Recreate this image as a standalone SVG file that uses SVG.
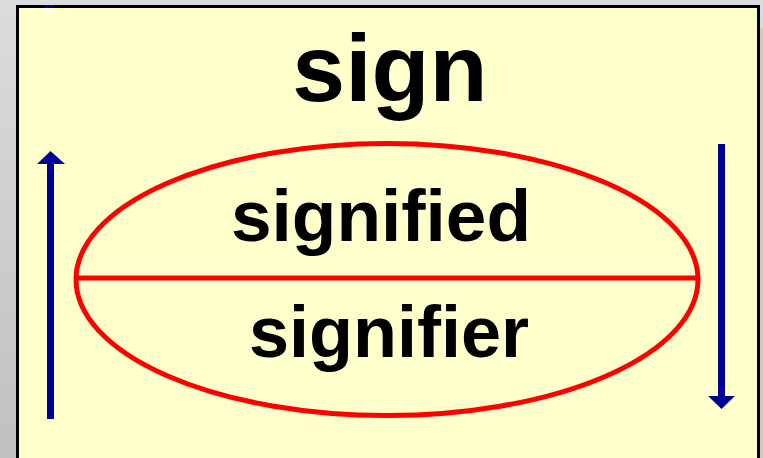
<svg xmlns="http://www.w3.org/2000/svg" width="763" height="458" viewBox="0 0 763 458">
<defs>
<linearGradient id="bgL" x1="0" y1="0" x2="0" y2="1">
<stop offset="0" stop-color="#dcdcdc"/>
<stop offset="1" stop-color="#c0c0c0"/>
</linearGradient>
<style>
.t{font-family:"Liberation Sans",Arial,sans-serif;font-weight:bold;fill:#000;text-anchor:middle}
.red{fill:none;stroke:#ff0000;stroke-width:5}
.blue{fill:#000099}
</style>
</defs>
<rect x="0" y="0" width="763" height="458" fill="url(#bgL)"/>
<rect x="0" y="0" width="763" height="5" fill="#dcdcdc"/>
<rect x="760" y="28" width="3" height="430" fill="#d8c8b8"/>
<rect x="17.5" y="6.5" width="741" height="460" fill="#ffffcc" stroke="#000" stroke-width="3"/>
<rect x="44" y="5" width="10" height="3" class="blue"/>
<g id="sign"><text class="t" x="390" y="101" font-size="95">sign</text></g>
<g id="ellipse">
<ellipse class="red" cx="387" cy="279.5" rx="311" ry="136"/>
<line class="red" x1="76" y1="278" x2="698" y2="278" stroke-width="6"/>
</g>
<g id="signified"><text class="t" x="381" y="241" font-size="73">signified</text></g>
<g id="signifier"><text class="t" x="389" y="357" font-size="72">signifier</text></g>
<g id="connectors">
<g id="arrow-up">
<rect class="blue" x="47" y="162" width="7" height="257"/>
<polygon class="blue" points="50.5,151 65,164 37,164"/>
</g>
<g id="arrow-down">
<rect class="blue" x="718" y="144" width="7" height="254"/>
<polygon class="blue" points="708,396 735,396 721.5,409"/>
</g>
</g>
</svg>
